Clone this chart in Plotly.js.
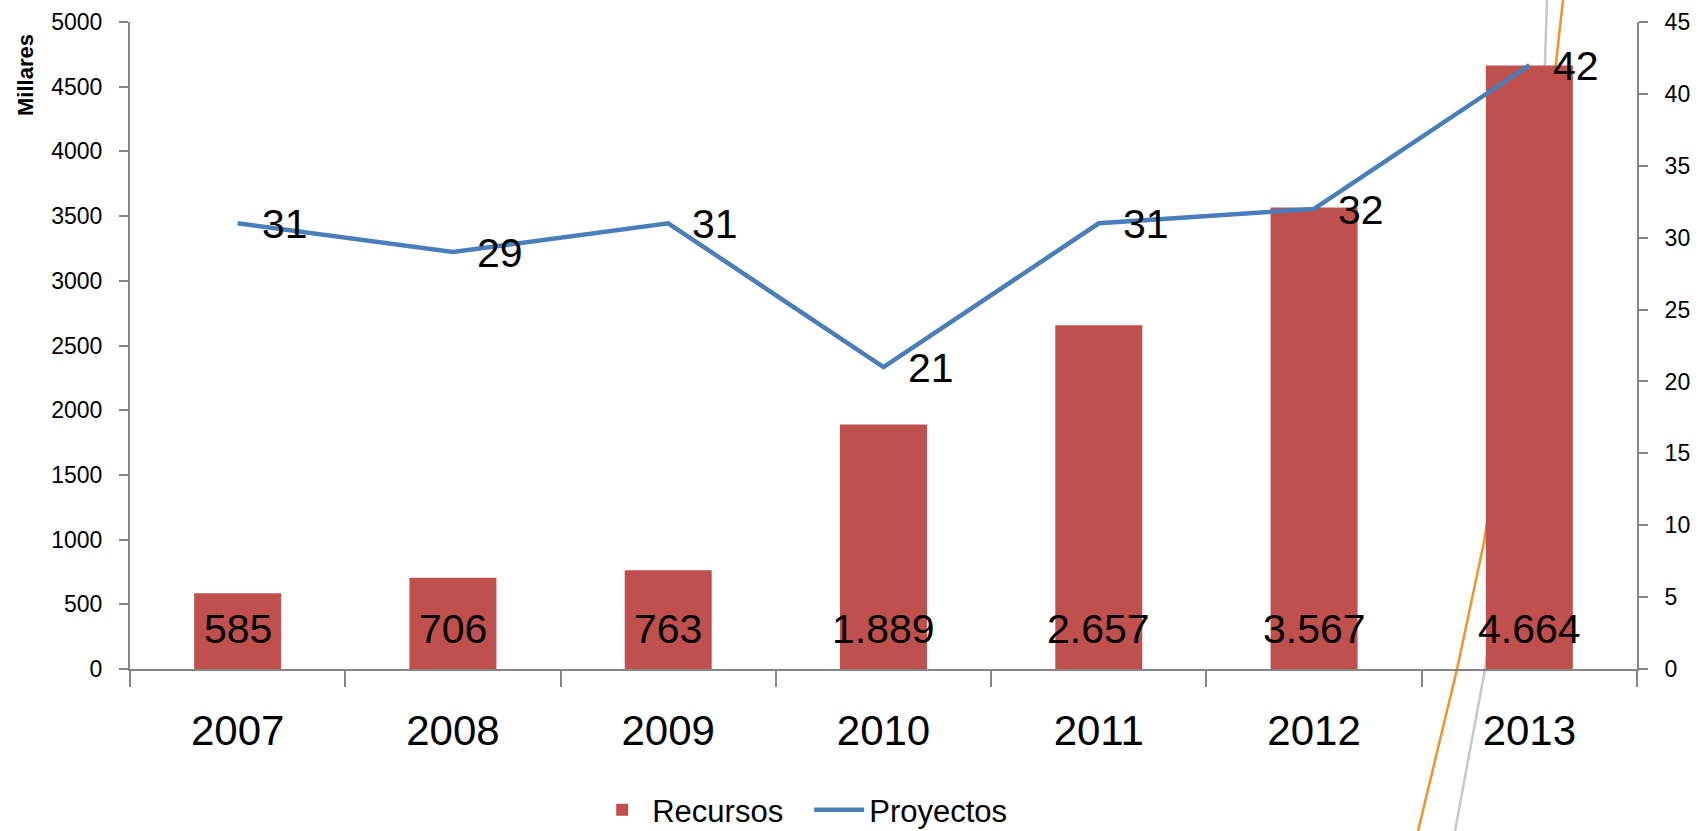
<!DOCTYPE html>
<html>
<head>
<meta charset="utf-8">
<script src="https://cdn.plot.ly/plotly-3.0.1.min.js"></script>
<style>
  html, body { margin: 0; padding: 0; background: #ffffff; }
  #chart { width: 1701px; height: 831px; }
</style>
</head>
<body>
<div id="chart"></div>
<script>
// ---- data ----
const years = ['2007', '2008', '2009', '2010', '2011', '2012', '2013'];
const recursos = [585, 706, 763, 1889, 2657, 3567, 4664];   // Millares
const proyectos = [31, 29, 31, 21, 31, 32, 42];
const seriesNames = ['Recursos', 'Proyectos'];
const yTitle = 'Millares';

const FONT = 'Liberation Sans, Arial, sans-serif';
const AXIS_COLOR = '#868686';

function fmtThousands(v) {
  return String(v).replace(/\B(?=(\d{3})+(?!\d))/g, '.');
}

const barTrace = {
  type: 'bar',
  name: seriesNames[0],
  x: years,
  y: recursos,
  marker: { color: '#c0504d', line: { width: 0 } },
  yaxis: 'y',
  hoverinfo: 'skip'
};

const lineTrace = {
  type: 'scatter',
  mode: 'lines',
  name: seriesNames[1],
  x: years,
  y: proyectos,
  yaxis: 'y2',
  line: { color: '#4a7ebb', width: 4.5 },
  cliponaxis: false,
  hoverinfo: 'skip'
};

// bar value labels near the base of each bar (x given as category index)
const barLabels = years.map((yr, i) => ({
  x: i, y: 0, xref: 'x', yref: 'y',
  text: fmtThousands(recursos[i]),
  showarrow: false,
  yanchor: 'middle',
  yshift: 40,
  font: { family: FONT, size: 41, color: '#000000' }
}));

// line value labels to the right of each point
const lineLabels = years.map((yr, i) => ({
  x: i, y: proyectos[i], xref: 'x', yref: 'y2',
  text: String(proyectos[i]),
  showarrow: false,
  xanchor: 'left',
  yanchor: 'middle',
  xshift: 22,
  yshift: -1,
  font: { family: FONT, size: 41, color: '#000000' }
}));

const annotations = barLabels.concat(lineLabels, [{
  xref: 'paper', yref: 'paper',
  x: -0.0697, y: 0.918,
  text: '<b>' + yTitle + '</b>',
  textangle: -90,
  showarrow: false,
  xanchor: 'center', yanchor: 'middle',
  font: { family: FONT, size: 22, color: '#000000' }
}]);

// decorative strokes visible in the reference (behind the bars)
function pathFrom(pts) {
  return pts.map((p, i) => (i ? 'L' : 'M') + p[0] + ',' + p[1]).join(' ');
}
const grayStroke = [[0.9403, 1.034], [0.9390, 0.9413], [0.9290, 0.5703], [0.9091, 0.1685], [0.8992, 0], [0.8792, -0.2504]];
const orangeStroke = [[0.9509, 1.034], [0.9463, 0.9382], [0.8985, 0.1963], [0.8806, 0], [0.8547, -0.2504]];

const layout = {
  width: 1701,
  height: 831,
  paper_bgcolor: '#ffffff',
  plot_bgcolor: 'rgba(0,0,0,0)',
  margin: { l: 130, r: 64, t: 22, b: 162, autoexpand: false },
  font: { family: FONT, color: '#000000' },
  separators: ',.',
  bargap: 0.596,
  showlegend: true,
  legend: {
    orientation: 'h',
    x: 0.4507, xanchor: 'center',
    y: -0.218, yanchor: 'middle',
    font: { family: FONT, size: 31, color: '#000000' },
    itemwidth: 50,
    entrywidth: 152,
    traceorder: 'normal',
    bgcolor: 'rgba(0,0,0,0)'
  },
  xaxis: {
    type: 'category',
    range: [-0.5, years.length - 0.5],
    automargin: false,
    tickson: 'boundaries',
    ticks: 'outside',
    ticklen: 16,
    tickwidth: 2,
    tickcolor: AXIS_COLOR,
    showline: true,
    linecolor: AXIS_COLOR,
    linewidth: 2,
    showgrid: false,
    zeroline: false,
    tickangle: 0,
    tickfont: { family: FONT, size: 42, color: '#000000' },
    ticklabelstandoff: 24,
    fixedrange: true
  },
  yaxis: {
    range: [0, 5000],
    automargin: false,
    dtick: 500,
    tick0: 0,
    ticks: 'outside',
    ticklen: 9,
    tickwidth: 2,
    tickcolor: AXIS_COLOR,
    showline: true,
    linecolor: AXIS_COLOR,
    linewidth: 2,
    showgrid: false,
    zeroline: false,
    tickformat: 'd',
    tickfont: { family: FONT, size: 23, color: '#000000' },
    ticklabelstandoff: 12,
    fixedrange: true
  },
  yaxis2: {
    overlaying: 'y',
    side: 'right',
    range: [0, 45],
    automargin: false,
    dtick: 5,
    tick0: 0,
    ticks: 'outside',
    ticklen: 9,
    tickwidth: 2,
    tickcolor: AXIS_COLOR,
    showline: true,
    linecolor: AXIS_COLOR,
    linewidth: 2,
    showgrid: false,
    zeroline: false,
    tickfont: { family: FONT, size: 23, color: '#000000' },
    ticklabelstandoff: 12,
    fixedrange: true
  },
  annotations: annotations,
  shapes: [
    { type: 'path', xref: 'paper', yref: 'paper', layer: 'below',
      path: pathFrom(grayStroke), line: { color: '#c8c8c8', width: 2.5 } },
    { type: 'path', xref: 'paper', yref: 'paper', layer: 'below',
      path: pathFrom(orangeStroke), line: { color: '#f39226', width: 2.5 } }
  ]
};

Plotly.newPlot('chart', [barTrace, lineTrace], layout, { displayModeBar: false, staticPlot: true });
</script>
</body>
</html>
